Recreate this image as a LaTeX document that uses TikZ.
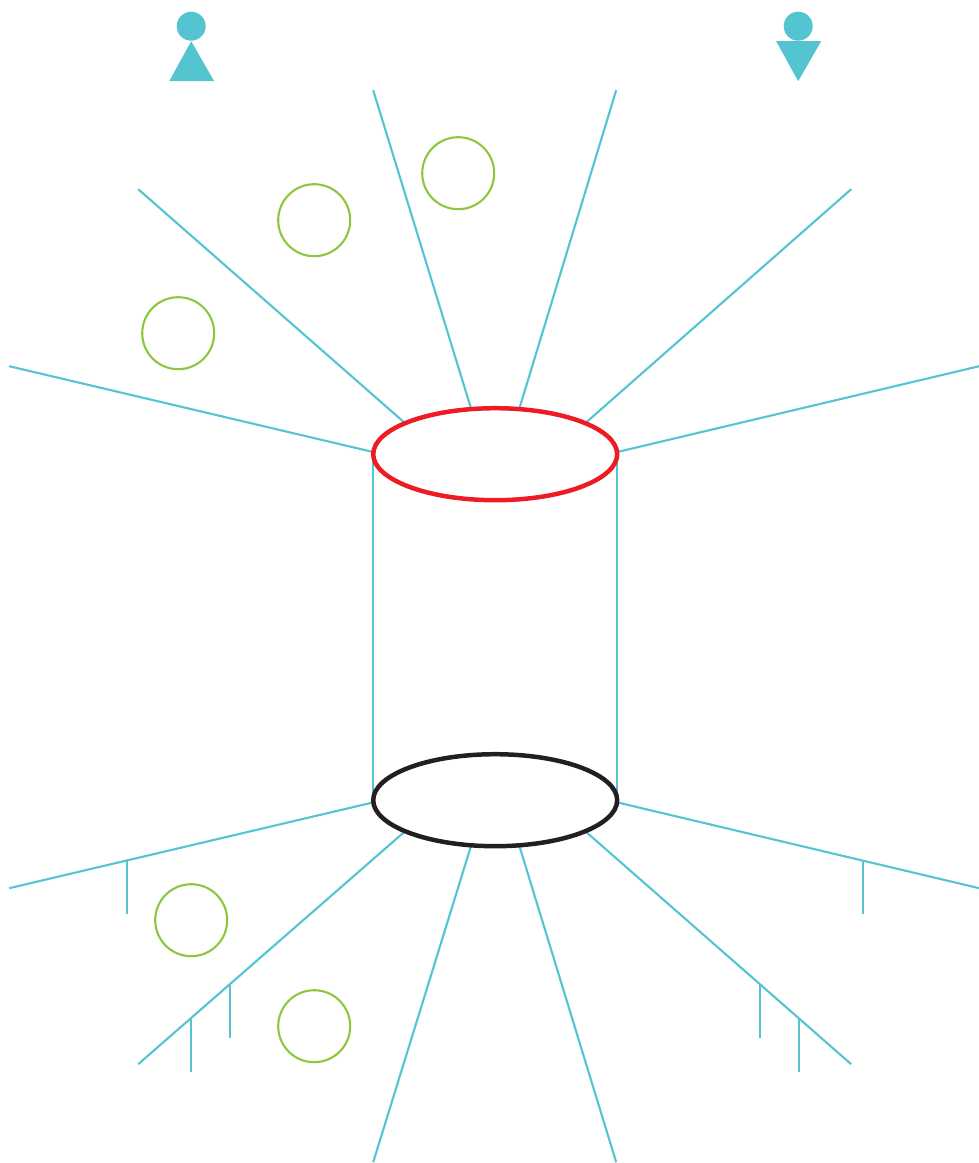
\documentclass[tikz,border=0pt]{standalone}
\usepackage{xcolor}
\usetikzlibrary{shapes.geometric,backgrounds}
\definecolor{tealline}{HTML}{54C5D0}
\definecolor{leafgreen}{HTML}{8DC63F}
\definecolor{ringred}{HTML}{ED1C24}
\definecolor{ringblack}{HTML}{231F20}
\tikzset{
    ring/.style={draw, ellipse, line width=2.55pt, minimum width=4.88cm, minimum height=1.84cm, inner sep=0pt, outer sep=0pt},
    spoke/.style={draw=tealline, line width=1.2pt},
    leaf/.style={draw=leafgreen, circle, line width=1.2pt, minimum size=1.44cm, inner sep=0pt},
    head/.style={fill=tealline, circle, minimum size=0.58cm, inner sep=0pt}
}

\begin{document}
\begin{tikzpicture}[x=0.02cm, y=-0.02cm]
    \useasboundingbox (-0.2,-0.2) rectangle (978.8,1162.8);

    \node[ring, draw=ringred] (top) at (495,454) {};
    \node[ring, draw=ringblack] (bot) at (495,800) {};

    \coordinate (t1) at (9,366);
    \coordinate (t2) at (138,189);
    \coordinate (t3) at (373,90);
    \coordinate (t4) at (616,90);
    \coordinate (t5) at (851,189);
    \coordinate (t6) at (979,366);
    \coordinate (b1) at (9,888);
    \coordinate (b2) at (138,1064);
    \coordinate (b3) at (373,1162);
    \coordinate (b4) at (616,1162);
    \coordinate (b5) at (851,1064);
    \coordinate (b6) at (979,888);

    \begin{pgfonlayer}{background}
    \draw[spoke] (top.179) -- (t1);
    \draw[spoke] (top.161) -- (t2);
    \draw[spoke] (top.118) -- (t3);
    \draw[spoke] (top.62) -- (t4);
    \draw[spoke] (top.19) -- (t5);
    \draw[spoke] (top.1) -- (t6);
    \draw[spoke] (bot.181) -- (b1);
    \draw[spoke] (bot.199) -- (b2);
    \draw[spoke] (bot.242) -- (b3);
    \draw[spoke] (bot.298) -- (b4);
    \draw[spoke] (bot.341) -- (b5);
    \draw[spoke] (bot.359) -- (b6);
    \draw[spoke] (top.west) -- (bot.west);
    \draw[spoke] (top.east) -- (bot.east);
    \end{pgfonlayer}

    \draw[spoke] (127,860) coordinate (s1) -- (127,914) coordinate (e1);
    \draw[spoke] (230,984) coordinate (s2) -- (230,1038) coordinate (e2);
    \draw[spoke] (191,1018) coordinate (s3) -- (191,1072) coordinate (e3);
    \draw[spoke] (863,860) coordinate (s4) -- (863,914) coordinate (e4);
    \draw[spoke] (760,984) coordinate (s5) -- (760,1038) coordinate (e5);
    \draw[spoke] (799,1018) coordinate (s6) -- (799,1072) coordinate (e6);

    \node[leaf] (leafa) at (178,333) {};
    \node[leaf] (leafb) at (314,220) {};
    \node[leaf] (leafc) at (458,173) {};
    \node[leaf] (leafd) at (191,920) {};
    \node[leaf] (leafe) at (314,1026) {};

    \node[head] (heada) at (191,26) {};
    \fill[tealline] (191,41) -- (214,81) -- (169,81) -- cycle;
    \node[head] (headb) at (798,26) {};
    \fill[tealline] (776,41) -- (821,41) -- (798,81) -- cycle;
\end{tikzpicture}
\end{document}
